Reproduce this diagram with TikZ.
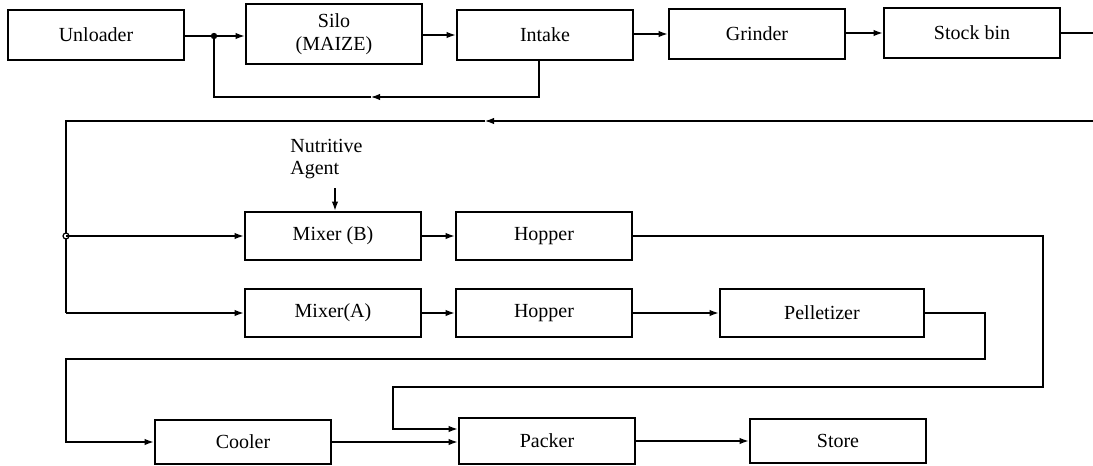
\documentclass[tikz,border=0pt]{standalone}
\usepackage{fontspec}
\setmainfont{Liberation Serif}
\usepackage{tikz}
\usetikzlibrary{arrows.meta,positioning}
\tikzset{
  caixa/.style={rectangle,draw=black,line width=1.4pt,fill=white,
    minimum width=88pt,minimum height=25pt,inner sep=1pt,align=center,
    font=\fontsize{10}{11.5}\selectfont},
  linha/.style={line width=0.6pt,black},
  seta/.style={-{Latex[length=4.5pt,width=3.2pt]},line width=0.6pt,black}
}
\begin{document}
\begin{tikzpicture}[x=0.5pt,y=-0.5pt]
  \useasboundingbox (0,0) rectangle (1093,466);
  % linha superior
  \node[caixa] (unl) at (96,35) {Unloader};
  \node[caixa,minimum height=30pt] (silo) at (334,34) {Silo\\(MAIZE)};
  \node[caixa] (intk) at (545,35) {Intake};
  \node[caixa] (grnd) at (757,34) {Grinder};
  \node[caixa] (stk) at (972,33) {Stock bin};
  \coordinate (pto) at (214,36);
  \fill (pto) circle (1.6pt);
  \draw[linha] (unl.east |- pto) -- (pto);
  \draw[seta] (pto) -- (pto -| silo.west);
  \draw[seta] (silo.east |- intk.west) -- (intk.west);
  \draw[seta] (intk.east |- grnd.west) -- (grnd.west);
  \draw[seta] (grnd.east |- stk.west) -- (stk.west);
  % retorno do intake
  \coordinate (rtA) at (539,97);
  \coordinate (rtB) at (371,97);
  \draw[seta] (rtA |- intk.south) -- (rtA) -- (rtB);
  \draw[linha] (rtB) -| (pto);
  % saida do stock bin e volta
  \coordinate (sai) at (1093,33);
  \coordinate (vol) at (1093,121);
  \coordinate (volm) at (485,121);
  \draw[linha] (stk.east) -- (sai);
  \draw[seta] (vol) -- (volm);
  % misturadores
  \node[caixa,minimum height=24pt] (mixB) at (333,236) {Mixer (B)};
  \node[caixa,minimum height=24pt] (hopB) at (544,236) {Hopper};
  \node[caixa,minimum height=24pt] (mixA) at (333,313) {Mixer(A)};
  \node[caixa,minimum height=24pt] (hopA) at (544,313) {Hopper};
  \node[caixa,minimum height=24pt,minimum width=102pt] (pel) at (822,313) {Pelletizer};
  \coordinate (jB) at (66,236);
  \coordinate (jA) at (66,313);
  \draw[linha] (volm) -| (jA);
  \draw[linha,fill=white] (jB) circle (1.5pt);
  \draw[seta] (jB) -- (mixB.west);
  \draw[seta] (jA) -- (mixA.west);
  \node[align=left,anchor=west,inner sep=0pt,
    font=\fontsize{10}{11}\selectfont] (nut) at (290,159) {Nutritive\\Agent};
  \coordinate (na) at (335,188);
  \draw[seta] (na) -- (na |- mixB.north);
  \draw[seta] (mixB) -- (hopB);
  \draw[seta] (mixA) -- (hopA);
  \draw[seta] (hopA) -- (pel);
  % linha inferior
  \node[caixa,minimum height=22pt] (cool) at (243,442) {Cooler};
  \node[caixa,minimum height=23pt] (pack) at (547,441) {Packer};
  \node[caixa,minimum height=22pt] (stor) at (838,441) {Store};
  \coordinate (hb1) at (1043,387);
  \coordinate (hb2) at (393,429);
  \draw[seta] (hopB.east) -| (hb1) -| (hb2) -- (hb2 -| pack.west);
  \coordinate (pl1) at (985,359);
  \coordinate (pl2) at (66,442);
  \draw[seta] (pel.east) -| (pl1) -| (pl2) -- (cool.west);
  \draw[seta] (cool.east) -- (cool.east -| pack.west);
  \draw[seta] (pack) -- (stor);
\end{tikzpicture}
\end{document}
